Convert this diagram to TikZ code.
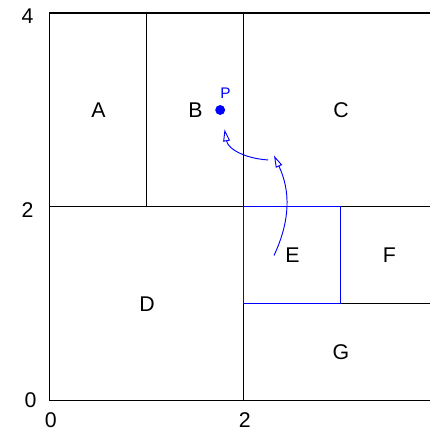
\documentclass[tikz,border=0pt]{standalone}
\usepackage{fontspec}
\setmainfont{Liberation Sans}
\usetikzlibrary{arrows.meta}

\begin{document}
\begin{tikzpicture}[
    x=2cm, y=2cm,
    line width=0.6pt,
    font=\fontsize{12.5}{14}\selectfont,
    dot/.style={circle, fill=blue, inner sep=0pt, minimum size=5.8pt},
    flow/.style={blue, line width=0.55pt, -{Triangle[open, length=7pt, width=4pt]}},
    cell/.style={draw=blue}
]
    \useasboundingbox (-0.515,-0.392) rectangle (3.918,4.134);

    % --- 外框与分割线 ---
    \draw (4,4) -- (0,4) -- (0,0) -- (4,0);
    \draw (0,2) -- (2,2) (3,2) -- (4,2);
    \draw (2,0) -- (2,1) (2,2) -- (2,4);
    \draw (1,2) -- (1,4);
    \draw (3,1) -- (4,1);
    \draw[cell] (2,1) rectangle (3,2);  % 区域 E

    % --- 区域标签 ---
    \node (A) at (0.5,3) {A};
    \node (B) at (1.5,3) {B};
    \node (C) at (3,3) {C};
    \node (D) at (1,1) {D};
    \node (E) at (2.5,1.5) {E};
    \node (F) at (3.5,1.5) {F};
    \node (G) at (3,0.5) {G};

    % --- 坐标刻度 ---
    \node (y4) at (-0.23,3.97) {4};
    \node (y2) at (-0.23,1.97) {2};
    \node (y0) at (-0.20,0.01) {0};
    \node (x0) at (0.01,-0.20) {0};
    \node (x2) at (2.01,-0.20) {2};

    % --- 点 P ---
    \node[dot] (P) at (1.755,3.0) {};
    \node[blue, font=\fontsize{9}{10}\selectfont] (Plab) at (1.81,3.17) {P};

    % --- 移动路径 ---
    \coordinate (s1) at (2.31,1.50);
    \coordinate (e1) at (2.31,2.53);
    \coordinate (s2) at (2.25,2.485);
    \coordinate (e2) at (1.80,2.80);
    \draw[flow] (s1) to[bend right=25] (e1);
    \draw[flow] (s2) to[out=177,in=-80] (e2);
\end{tikzpicture}
\end{document}
